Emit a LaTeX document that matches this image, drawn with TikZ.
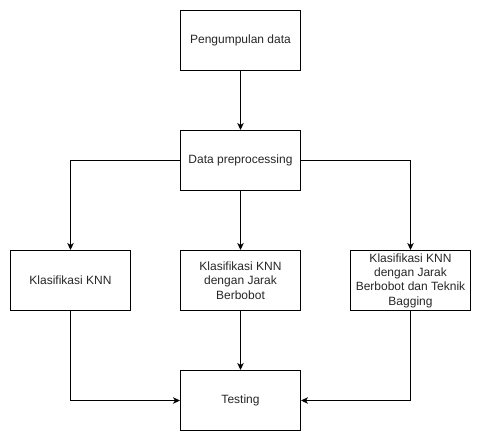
\documentclass[tikz,border=0pt]{standalone}
\usepackage{fontspec}
\setmainfont{Liberation Sans}
\usetikzlibrary{arrows.meta}
\begin{document}
\begin{tikzpicture}[x=1pt,y=-1pt,
  box/.style={draw,line width=1pt,minimum width=120pt,minimum height=60pt,anchor=north west,align=center,inner sep=0pt,font=\fontsize{12}{14.4}\selectfont,text=black!85},
  conn/.style={line width=1pt,-{Stealth[length=7pt,width=6.5pt,inset=2pt]}}]
\useasboundingbox (0,0) rectangle (481,441);
\node[box] (a) at (180,10) {Pengumpulan data};
\node[box] (b) at (180,130) {Data preprocessing};
\node[box] (c) at (10,250) {Klasifikasi KNN};
\node[box] (d) at (180,250) {Klasifikasi KNN\\dengan Jarak\\Berbobot};
\node[box] (e) at (350,250) {Klasifikasi KNN\\dengan Jarak\\Berbobot dan Teknik\\Bagging};
\node[box] (f) at (180,370) {Testing};
\draw[conn] (a) -- (b);
\draw[conn] (b.west) -| (c.north);
\draw[conn] (b) -- (d);
\draw[conn] (b.east) -| (e.north);
\draw[conn] (c.south) |- (f.west);
\draw[conn] (d) -- (f);
\draw[conn] (e.south) |- (f.east);
\end{tikzpicture}
\end{document}
